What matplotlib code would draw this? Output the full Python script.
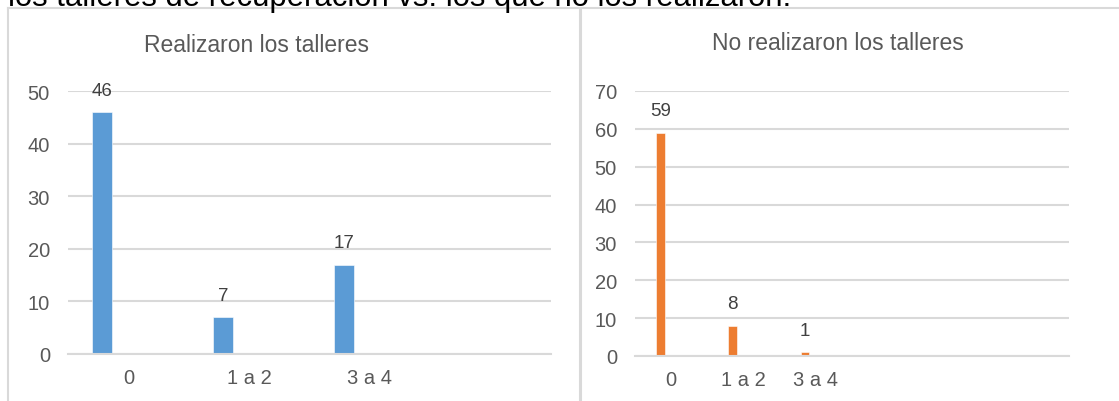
import matplotlib
matplotlib.use("Agg")
import matplotlib.pyplot as plt
from matplotlib.lines import Line2D

plt.rcParams['font.family'] = ['Liberation Sans', 'DejaVu Sans']

# Data
caption = "los talleres de recuperación vs. los que no los realizaron."
left_title = "Realizaron los talleres"
right_title = "No realizaron los talleres"
categories = ["0", "1 a 2", "3 a 4"]
left_values = [46, 7, 17]
right_values = [59, 8, 1]
left_yticks = [0, 10, 20, 30, 40, 50]
right_yticks = [0, 10, 20, 30, 40, 50, 60, 70]

W, H = 1119, 402
fig = plt.figure(figsize=(W / 100, H / 100), dpi=100)

GRID = '#d9d9d9'
TXT = '#595959'
LBL = '#404040'

def px_box(x0, x1, ytop, ybot):
    return [x0 / W, (H - ybot) / H, (x1 - x0) / W, (ybot - ytop) / H]

def panel(ax, values, yticks, ncat, offset, width, color):
    xs = list(range(len(values)))
    bars = ax.bar([x + offset for x in xs], values, width=width, color=color,
                  edgecolor='white', linewidth=0.4, zorder=3)
    ax.set_xlim(-0.5, ncat - 0.5)
    ax.set_ylim(yticks[0], yticks[-1])
    ax.set_yticks(yticks)
    ax.set_xticks(xs)
    ax.set_xticklabels(categories)
    for s in ['top', 'right', 'left']:
        ax.spines[s].set_visible(False)
    ax.spines['bottom'].set_color(GRID)
    ax.spines['bottom'].set_linewidth(1.5)
    ax.spines['bottom'].set_zorder(4)
    ax.grid(axis='y', color=GRID, linewidth=1.5, zorder=0)
    ax.set_axisbelow(True)
    ax.tick_params(axis='both', length=0, colors=TXT, labelsize=14.5)
    ax.tick_params(axis='y', pad=13)
    ax.tick_params(axis='x', pad=10)
    for b, v in zip(bars, values):
        ax.annotate(str(v), (b.get_x() + b.get_width() / 2, v),
                    xytext=(0, 22), textcoords='offset pixels',
                    ha='center', va='center', fontsize=13.5, color=LBL)

axL = fig.add_axes(px_box(68, 551, 92, 355))
panel(axL, left_values, left_yticks, 4, -0.215, 0.165, '#5b9bd5')
axR = fig.add_axes(px_box(635, 1069, 92, 357))
panel(axR, right_values, right_yticks, 6, -0.15, 0.12, '#ed7d31')

fig.text(256 / W, (H - 45) / H, left_title, ha='center', va='center',
         fontsize=16.5, color=TXT)
fig.text(838 / W, (H - 43) / H, right_title, ha='center', va='center',
         fontsize=16.5, color=TXT)

# caption (cut off at top, as in the source)
fig.text(8 / W, (H - 6) / H, caption, ha='left', va='baseline',
         fontsize=22.3, color='black')

# panel borders
def fline(x0, y0, x1, y1, lw):
    fig.add_artist(Line2D([x0 / W, x1 / W], [(H - y0) / H, (H - y1) / H],
                          color=GRID, linewidth=lw, transform=fig.transFigure))

fline(8, 9, W, 9, 1.5)
fline(8, 9, 8, H, 1.5)
fline(580, 9, 580, H, 2.2)

fig.savefig('out.png', dpi=100)
